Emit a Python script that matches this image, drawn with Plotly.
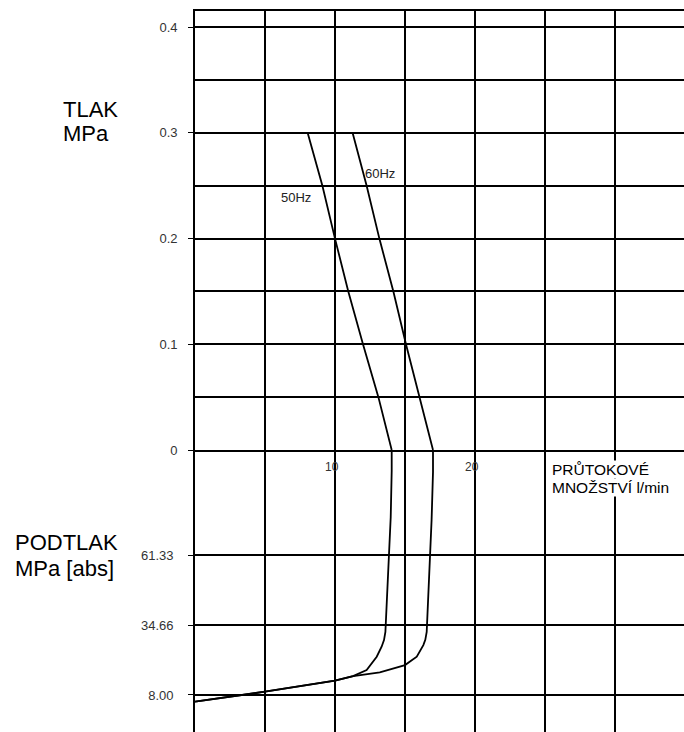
import plotly.graph_objects as go

# ---------------- data ----------------
# pressure side (gauge, MPa)
pressure_mpa = [0.3, 0.25, 0.2, 0.15, 0.1, 0.05, 0.0]
flow_50hz_pressure = [8.05, 9.1, 10.0, 10.95, 12.0, 13.1, 14.05]
flow_60hz_pressure = [11.26, 12.26, 13.17, 14.17, 15.07, 16.02, 17.0]

# vacuum side (absolute, kPa scale labelled on axis)
vac_abs_50hz = [101.33, 93.3, 75.8, 56.8, 39.6, 32, 28.9, 26.4, 22.6, 17.5, 15.2, 13.5, 9.25, 5.45]
flow_50hz_vac = [14.05, 14.05, 13.98, 13.81, 13.64, 13.6, 13.5, 13.33, 12.98, 12.26, 11.29, 10.0, 5.0, 0.0]
vac_abs_60hz = [101.33, 92.9, 74.7, 55.6, 39.6, 32, 29, 27, 22.6, 19.4, 16.6, 15.2, 13.5, 9.25, 5.45]
flow_60hz_vac = [17.0, 17.0, 16.9, 16.74, 16.6, 16.55, 16.45, 16.31, 15.84, 15.0, 13.2, 11.3, 10.0, 5.0, 0.0]

# axis ticks
p_tickvals = [0, 0.1, 0.2, 0.3, 0.4]
p_ticktext = ["0", "0.1", "0.2", "0.3", "0.4"]
p_minor = [0.05, 0.15, 0.25, 0.35]
v_tickvals = [8.0, 34.66, 61.33]
v_ticktext = ["8.00", "34.66", "61.33"]
x_grid = [5, 10, 15, 20, 25, 30]
x_labels = [10, 20]
x_labeltext = ["10", "20"]

# ---------------- layout geometry ----------------
W, H = 684, 732
ML = 195
split_px = 450
top_px = 11

def px_x(px):
    return (px - ML) / (W - ML)

def px_y(py):
    return (H - py) / H

FONT = "Liberation Sans, Arial, sans-serif"
LW = 1.7
GRID = "#000000"

fig = go.Figure()

line_style = dict(color="black", width=1.8)
fig.add_trace(go.Scatter(x=flow_50hz_pressure, y=pressure_mpa, mode="lines", line=line_style,
                         xaxis="x", yaxis="y", showlegend=False, hoverinfo="skip"))
fig.add_trace(go.Scatter(x=flow_60hz_pressure, y=pressure_mpa, mode="lines", line=line_style,
                         xaxis="x", yaxis="y", showlegend=False, hoverinfo="skip"))
fig.add_trace(go.Scatter(x=flow_50hz_vac, y=vac_abs_50hz, mode="lines", line=line_style,
                         xaxis="x2", yaxis="y2", showlegend=False, hoverinfo="skip"))
fig.add_trace(go.Scatter(x=flow_60hz_vac, y=vac_abs_60hz, mode="lines", line=line_style,
                         xaxis="x2", yaxis="y2", showlegend=False, hoverinfo="skip"))

xmax = (W - ML) / 14.0
split = 1 - split_px / H
top = 1 - top_px / H

xcommon = dict(range=[0, xmax], tickmode="array", tickvals=x_grid, showticklabels=False,
               showgrid=True, gridcolor=GRID, gridwidth=LW, zeroline=False, ticks="",
               automargin=False)

fig.update_layout(
    width=W, height=H,
    margin=dict(l=ML, r=0, t=0, b=0, pad=0, autoexpand=False),
    paper_bgcolor="white", plot_bgcolor="white",
    font=dict(family=FONT, color="#333333", size=12),
    xaxis=dict(**xcommon, anchor="y", domain=[0, 1], showline=True, mirror=True,
               linecolor="black", linewidth=LW),
    xaxis2=dict(**xcommon, anchor="y2", domain=[0, 1], showline=False),
    yaxis=dict(domain=[split, top], range=[0, (split_px - top_px) / 1057.0],
               tickmode="array", tickvals=p_tickvals, ticktext=p_ticktext,
               ticks="outside", ticklen=5, tickcolor="black", tickwidth=1.2,
               ticklabelstandoff=8, automargin=False,
               showgrid=True, gridcolor=GRID, gridwidth=LW, zeroline=False,
               showline=True, linecolor="black", linewidth=LW,
               minor=dict(tickmode="array", tickvals=p_minor, showgrid=True,
                          gridcolor=GRID, gridwidth=LW, ticks=""),
               tickfont=dict(size=13, color="#333333"), anchor="x"),
    yaxis2=dict(domain=[0, split], range=[101.33 - (H - split_px) / 2.625, 101.33],
                tickmode="array", tickvals=v_tickvals, ticktext=v_ticktext,
                ticks="outside", ticklen=5, tickcolor="black", tickwidth=1.2,
                ticklabelstandoff=12, automargin=False,
                showgrid=True, gridcolor=GRID, gridwidth=LW, zeroline=False,
                showline=True, linecolor="black", linewidth=LW,
                tickfont=dict(size=13, color="#333333"), anchor="x2"),
)

ann = []
def text(t, xpx, ypx, size, color="black", bg=None, xanchor="left"):
    d = dict(text=t, xref="paper", yref="paper", x=px_x(xpx), y=px_y(ypx),
             xanchor=xanchor, yanchor="middle", showarrow=False,
             font=dict(family=FONT, size=size, color=color), borderpad=0)
    if bg:
        d["bgcolor"] = bg
    ann.append(d)

text("TLAK", 62, 109, 22)
text("MPa", 62, 133, 22)
text("PODTLAK", 14, 542, 22)
text("MPa [abs]", 14, 568, 22)
text("PRŮTOKOVÉ", 551, 469, 15.5, bg="white")
text("MNOŽSTVÍ l/min", 551, 487, 15.5, bg="white")
text("50Hz", 296, 197.5, 13, color="#222222", xanchor="center")
text("60Hz", 380, 173.5, 13, color="#222222", xanchor="center")

for xv, xt in zip(x_labels, x_labeltext):
    ann.append(dict(text=xt, xref="x", yref="paper", x=xv, y=px_y(467),
                    xanchor="center", yanchor="middle", showarrow=False, xshift=-3,
                    font=dict(family=FONT, size=12, color="#333333")))

fig.update_layout(annotations=ann)

fig.write_html(
    "out.html", config={"displayModeBar": False},
    post_script=("document.body.style.margin='0';"
                 "document.body.style.overflow='hidden';"
                 "document.documentElement.style.overflow='hidden';"))
